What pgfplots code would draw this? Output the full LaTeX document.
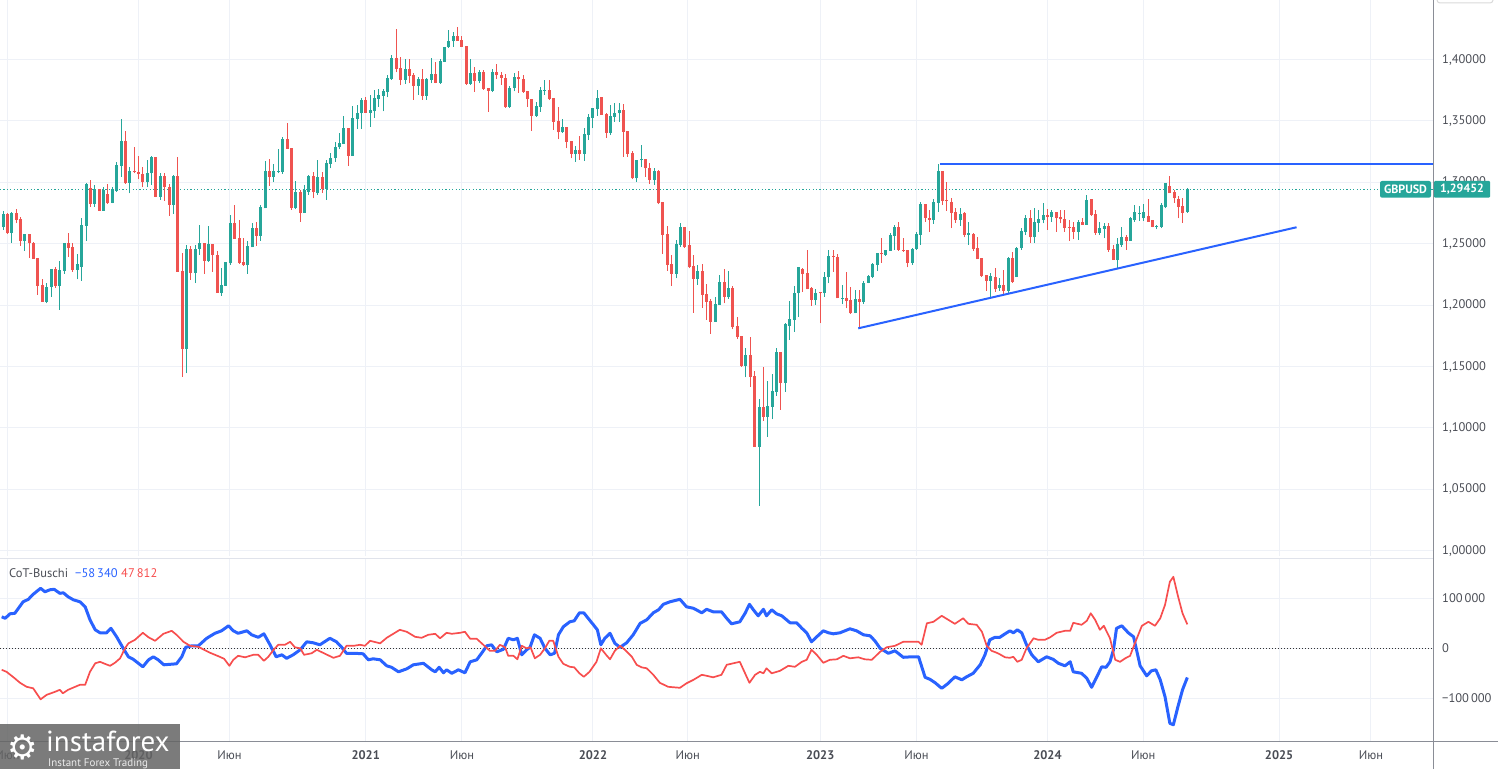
\documentclass[border=0pt]{standalone}
\usepackage{pgfplots}
\pgfplotsset{compat=1.18}
\usepackage{pgfplotstable}
\usepackage{fontspec}
\setmainfont{PT Sans}
\newfontfamily\dejavu{DejaVu Sans}

\definecolor{up}{HTML}{26A69A}
\definecolor{dn}{HTML}{EF5350}
\definecolor{tvblue}{HTML}{2962FF}
\definecolor{cotred}{HTML}{F74E4E}
\definecolor{gridc}{HTML}{EEF1F7}
\definecolor{sepc}{HTML}{E0E3EB}
\definecolor{axisc}{HTML}{8A8D96}
\definecolor{txt}{HTML}{4A4D55}

% weekly GBPUSD candles, w = weeks since first week of 2020
\pgfplotstableread{
w o h l c
-31 1.2634 1.2769 1.2612 1.2742
-30 1.2742 1.2750 1.2580 1.2585
-29 1.2590 1.2761 1.2509 1.2748
-28 1.2748 1.2783 1.2666 1.2693
-27 1.2704 1.2715 1.2482 1.2525
-26 1.2525 1.2579 1.2444 1.2579
-25 1.2579 1.2582 1.2387 1.2503
-24 1.2506 1.2517 1.2379 1.2379
-23 1.2384 1.2384 1.2083 1.2156
-22 1.2167 1.2210 1.2026 1.2026
-21 1.2026 1.2183 1.2015 1.2145
-20 1.2151 1.2292 1.2069 1.2292
-19 1.2297 1.2313 1.2142 1.2156
-18 1.2156 1.2362 1.1961 1.2286
-17 1.2281 1.2509 1.2254 1.2509
-16 1.2509 1.2585 1.2395 1.2465
-15 1.2476 1.2509 1.2270 1.2286
-14 1.2286 1.2417 1.2210 1.2335
-13 1.2313 1.2707 1.2199 1.2653
-12 1.2645 1.2997 1.2525 1.2987
-11 1.2954 1.3019 1.2797 1.2824
-10 1.2824 1.2976 1.2802 1.2948
-9 1.2943 1.2948 1.2769 1.2769
-8 1.2769 1.2959 1.2769 1.2938
-7 1.2905 1.2987 1.2824 1.2829
-6 1.2835 1.2959 1.2829 1.2943
-5 1.2930 1.3168 1.2924 1.3141
-4 1.3133 1.3516 1.3046 1.3337
-3 1.3337 1.3421 1.2987 1.2992
-2 1.2997 1.3122 1.2910 1.3092
-1 1.3092 1.3285 1.3073 1.3084
0 1.3087 1.3214 1.3024 1.3065
1 1.3065 1.3122 1.2959 1.3005
2 1.3005 1.3182 1.2959 1.3079
3 1.3073 1.3214 1.2978 1.3209
4 1.3209 1.3209 1.2878 1.2883
5 1.2883 1.3079 1.2856 1.3052
6 1.3052 1.3079 1.2851 1.2959
7 1.2959 1.2987 1.2726 1.2816
8 1.2816 1.3060 1.2742 1.3052
9 1.3052 1.3209 1.2270 1.2270
10 1.2276 1.2422 1.1418 1.1646
11 1.1646 1.2490 1.1445 1.2455
12 1.2455 1.2482 1.2205 1.2265
13 1.2265 1.2490 1.2178 1.2455
14 1.2455 1.2653 1.2408 1.2503
15 1.2503 1.2503 1.2254 1.2362
16 1.2362 1.2645 1.2354 1.2498
17 1.2498 1.2498 1.2270 1.2406
18 1.2406 1.2444 1.2102 1.2102
19 1.2102 1.2300 1.2077 1.2164
20 1.2156 1.2351 1.2156 1.2351
21 1.2340 1.2731 1.2327 1.2666
22 1.2666 1.2816 1.2541 1.2541
23 1.2547 1.2693 1.2335 1.2346
24 1.2351 1.2547 1.2319 1.2324
25 1.2324 1.2525 1.2254 1.2482
26 1.2471 1.2666 1.2471 1.2628
27 1.2628 1.2680 1.2482 1.2563
28 1.2563 1.2816 1.2525 1.2802
29 1.2788 1.3174 1.2788 1.3092
30 1.3092 1.3187 1.2970 1.3046
31 1.3046 1.3149 1.3005 1.3092
32 1.3084 1.3269 1.3073 1.3092
33 1.3084 1.3366 1.3068 1.3356
34 1.3350 1.3480 1.3274 1.3274
35 1.3280 1.3280 1.2775 1.2788
36 1.2788 1.3011 1.2780 1.2921
37 1.2921 1.2938 1.2680 1.2748
38 1.2748 1.2978 1.2748 1.2938
39 1.2921 1.3057 1.2900 1.3052
40 1.3052 1.3087 1.2870 1.2919
41 1.2916 1.3182 1.2897 1.3046
42 1.3046 1.3087 1.2916 1.2948
43 1.2948 1.3182 1.2856 1.3160
44 1.3149 1.3236 1.3114 1.3201
45 1.3196 1.3331 1.3169 1.3291
46 1.3285 1.3399 1.3269 1.3318
47 1.3312 1.3540 1.3312 1.3445
48 1.3445 1.3445 1.3136 1.3215
49 1.3215 1.3622 1.3215 1.3527
50 1.3519 1.3630 1.3432 1.3567
51 1.3562 1.3690 1.3432 1.3671
52 1.3671 1.3692 1.3567 1.3567
53 1.3567 1.3709 1.3454 1.3589
54 1.3584 1.3752 1.3527 1.3687
55 1.3682 1.3757 1.3616 1.3709
56 1.3703 1.3757 1.3578 1.3744
57 1.3738 1.3874 1.3692 1.3852
58 1.3839 1.4037 1.3833 1.4010
59 1.4010 1.4249 1.3896 1.3923
60 1.3929 1.4023 1.3790 1.3833
61 1.3833 1.4002 1.3801 1.3923
62 1.3923 1.4002 1.3806 1.3866
63 1.3874 1.3888 1.3671 1.3785
64 1.3785 1.3861 1.3711 1.3842
65 1.3842 1.3920 1.3671 1.3706
66 1.3706 1.3852 1.3671 1.3839
67 1.3833 1.4010 1.3806 1.3882
68 1.3882 1.3983 1.3806 1.3812
69 1.3812 1.4002 1.3801 1.3985
70 1.3983 1.4105 1.3983 1.4105
71 1.4099 1.4241 1.4094 1.4154
72 1.4148 1.4224 1.4105 1.4192
73 1.4192 1.4268 1.4154 1.4154
74 1.4159 1.4192 1.4105 1.4105
75 1.4110 1.4110 1.3793 1.3801
76 1.3801 1.4002 1.3793 1.3888
77 1.3888 1.3942 1.3739 1.3825
78 1.3825 1.3915 1.3806 1.3896
79 1.3899 1.3915 1.3752 1.3760
80 1.3768 1.3768 1.3576 1.3747
81 1.3746 1.3920 1.3735 1.3900
82 1.3900 1.3960 1.3840 1.3870
83 1.3870 1.3900 1.3795 1.3850
84 1.3850 1.3880 1.3605 1.3616
85 1.3616 1.3784 1.3605 1.3765
86 1.3765 1.3890 1.3740 1.3860
87 1.3860 1.3910 1.3730 1.3840
88 1.3840 1.3870 1.3730 1.3738
89 1.3746 1.3746 1.3616 1.3676
90 1.3676 1.3676 1.3420 1.3540
91 1.3540 1.3657 1.3534 1.3621
92 1.3616 1.3779 1.3575 1.3752
93 1.3745 1.3833 1.3711 1.3753
94 1.3752 1.3833 1.3670 1.3676
95 1.3689 1.3689 1.3426 1.3494
96 1.3499 1.3616 1.3350 1.3407
97 1.3407 1.3513 1.3404 1.3453
98 1.3453 1.3453 1.3277 1.3331
99 1.3336 1.3336 1.3195 1.3231
100 1.3231 1.3296 1.3168 1.3263
101 1.3263 1.3377 1.3182 1.3231
102 1.3231 1.3439 1.3176 1.3393
103 1.3385 1.3553 1.3344 1.3534
104 1.3526 1.3602 1.3439 1.3602
105 1.3594 1.3752 1.3540 1.3684
106 1.3692 1.3692 1.3548 1.3548
107 1.3553 1.3562 1.3364 1.3404
108 1.3404 1.3629 1.3385 1.3540
109 1.3534 1.3643 1.3494 1.3567
110 1.3562 1.3649 1.3494 1.3589
111 1.3589 1.3638 1.3209 1.3412
112 1.3420 1.3420 1.3209 1.3231
113 1.3241 1.3258 1.3024 1.3032
114 1.3032 1.3182 1.3005 1.3182
115 1.3178 1.3304 1.3122 1.3186
116 1.3187 1.3187 1.3046 1.3114
117 1.3114 1.3155 1.2986 1.3019
118 1.3019 1.3120 1.2978 1.3090
119 1.3090 1.3100 1.2820 1.2829
120 1.2843 1.2843 1.2417 1.2571
121 1.2579 1.2644 1.2281 1.2327
122 1.2335 1.2408 1.2156 1.2254
123 1.2254 1.2530 1.2218 1.2498
124 1.2490 1.2672 1.2476 1.2639
125 1.2639 1.2639 1.2463 1.2471
126 1.2490 1.2604 1.2300 1.2308
127 1.2319 1.2408 1.1939 1.2213
128 1.2213 1.2327 1.2164 1.2281
129 1.2281 1.2335 1.1979 1.2083
130 1.2091 1.2172 1.1879 1.2028
131 1.2037 1.2047 1.1765 1.1866
132 1.1866 1.2064 1.1866 1.2009
133 1.2001 1.2246 1.2001 1.2191
134 1.2191 1.2292 1.2015 1.2069
135 1.2064 1.2278 1.2050 1.2142
136 1.2142 1.2156 1.1803 1.1825
137 1.1830 1.1906 1.1722 1.1743
138 1.1749 1.1749 1.1499 1.1507
139 1.1507 1.1648 1.1412 1.1594
140 1.1594 1.1738 1.1336 1.1418
141 1.1423 1.1464 1.0848 1.0848
142 1.0848 1.1236 1.0367 1.1173
143 1.1173 1.1494 1.1059 1.1092
144 1.1092 1.1383 1.0929 1.1179
145 1.1173 1.1439 1.1070 1.1304
146 1.1296 1.1654 1.1260 1.1621
147 1.1621 1.1621 1.1146 1.1369
148 1.1369 1.1857 1.1296 1.1844
149 1.1830 1.2034 1.1716 1.1885
150 1.1879 1.2156 1.1784 1.2102
151 1.2096 1.2313 1.1906 1.2308
152 1.2291 1.2300 1.2110 1.2253
153 1.2259 1.2449 1.2129 1.2129
154 1.2137 1.2145 1.1993 1.2042
155 1.2042 1.2129 1.2001 1.2096
156 1.2103 1.2105 1.1852 1.2095
157 1.2096 1.2272 1.2069 1.2232
158 1.2226 1.2449 1.2177 1.2400
159 1.2401 1.2449 1.2272 1.2393
160 1.2395 1.2416 1.2055 1.2055
161 1.2052 1.2164 1.2006 1.2060
162 1.2055 1.2267 1.1974 1.2036
163 1.2042 1.2150 1.1928 1.1933
164 1.1933 1.2123 1.1933 1.2047
165 1.2050 1.2123 1.1811 1.2028
166 1.2028 1.2197 1.2009 1.2183
167 1.2183 1.2245 1.2177 1.2237
168 1.2232 1.2340 1.2218 1.2335
169 1.2327 1.2422 1.2281 1.2422
170 1.2422 1.2544 1.2346 1.2414
171 1.2408 1.2449 1.2400 1.2449
172 1.2443 1.2590 1.2443 1.2571
173 1.2563 1.2652 1.2449 1.2633
174 1.2633 1.2680 1.2443 1.2449
175 1.2450 1.2544 1.2435 1.2442
176 1.2449 1.2449 1.2308 1.2346
177 1.2346 1.2462 1.2327 1.2454
178 1.2454 1.2598 1.2449 1.2579
179 1.2571 1.2842 1.2490 1.2823
180 1.2823 1.2823 1.2680 1.2712
181 1.2712 1.2774 1.2598 1.2693
182 1.2693 1.2861 1.2661 1.2842
183 1.2834 1.3149 1.2761 1.3095
184 1.3095 1.3095 1.2815 1.2850
185 1.2856 1.3005 1.2769 1.2848
186 1.2843 1.2870 1.2626 1.2753
187 1.2761 1.2794 1.2672 1.2693
188 1.2693 1.2788 1.2645 1.2742
189 1.2748 1.2761 1.2552 1.2571
190 1.2571 1.2680 1.2490 1.2590
191 1.2579 1.2590 1.2444 1.2455
192 1.2463 1.2558 1.2373 1.2373
193 1.2381 1.2381 1.2232 1.2238
194 1.2246 1.2246 1.2118 1.2200
195 1.2200 1.2265 1.2056 1.2238
196 1.2227 1.2300 1.2110 1.2129
197 1.2142 1.2218 1.2118 1.2164
198 1.2164 1.2286 1.2083 1.2118
199 1.2118 1.2395 1.2096 1.2387
200 1.2381 1.2436 1.2183 1.2191
201 1.2227 1.2471 1.2227 1.2463
202 1.2463 1.2626 1.2449 1.2607
203 1.2598 1.2734 1.2571 1.2707
204 1.2707 1.2775 1.2509 1.2552
205 1.2552 1.2788 1.2509 1.2680
206 1.2672 1.2775 1.2598 1.2699
207 1.2693 1.2835 1.2666 1.2734
208 1.2734 1.2780 1.2612 1.2721
209 1.2721 1.2775 1.2680 1.2761
210 1.2761 1.2761 1.2598 1.2707
211 1.2715 1.2775 1.2666 1.2699
212 1.2699 1.2775 1.2598 1.2626
213 1.2639 1.2693 1.2525 1.2626
214 1.2639 1.2680 1.2536 1.2598
215 1.2598 1.2693 1.2531 1.2680
216 1.2680 1.2707 1.2653 1.2653
217 1.2653 1.2897 1.2653 1.2856
218 1.2862 1.2862 1.2726 1.2734
219 1.2742 1.2775 1.2571 1.2590
220 1.2590 1.2680 1.2571 1.2626
221 1.2620 1.2672 1.2544 1.2645
222 1.2645 1.2666 1.2436 1.2449
223 1.2454 1.2490 1.2367 1.2367
224 1.2367 1.2544 1.2300 1.2498
225 1.2490 1.2639 1.2476 1.2552
226 1.2552 1.2571 1.2449 1.2525
227 1.2525 1.2720 1.2525 1.2707
228 1.2693 1.2815 1.2680 1.2761
229 1.2745 1.2807 1.2688 1.2753
230 1.2707 1.2823 1.2688 1.2761
231 1.2726 1.2861 1.2680 1.2680
232 1.2693 1.2693 1.2633 1.2639
233 1.2637 1.2652 1.2617 1.2645
234 1.2639 1.2829 1.2625 1.2815
235 1.2796 1.2997 1.2788 1.2997
236 1.2970 1.3051 1.2910 1.2910
237 1.2924 1.2937 1.2834 1.2869
238 1.2861 1.2888 1.2707 1.2802
239 1.2807 1.2869 1.2671 1.2753
240 1.2761 1.2950 1.2753 1.2945
}\gbp

% CoT-Buschi lines, values in thousands of contracts
\pgfplotstableread{
w v
-31.3 63
-30.5 60
-29.4 69
-28.3 70
-26.4 93
-25.2 98
-24.1 108
-22.4 120
-21.4 113
-20.3 117
-19.3 118
-18.0 110
-17.2 111
-16.1 103
-14.9 97
-13.4 93
-12.2 83
-11.1 57
-9.9 37
-8.8 31
-7.3 31
-6.3 40
-5.0 23
-3.5 0
-2.3 -17
-1.2 -22
1.0 -37
2.3 -23
3.4 -17
4.5 -23
5.8 -33
8.7 -31
9.9 -17
10.8 2
12.2 5
13.7 5
15.6 20
17.5 30
19.0 35
20.6 45
21.7 35
22.8 30
24.8 35
25.9 27
27.4 22
28.7 29
30.1 7
31.5 -17
32.8 -13
33.9 -20
35.4 -13
37.0 -3
38.5 13
40.0 11
41.5 7
43.8 20
45.3 13
46.5 2
47.6 -10
49.5 -10
51.4 -11
52.6 -23
53.7 -21
55.3 -23
56.8 -35
57.9 -38
59.5 -47
61.4 -41
62.9 -33
65.2 -30
67.1 -43
67.9 -47
68.8 -38
69.8 -49
70.5 -43
71.7 -50
73.2 -43
74.7 -49
75.9 -27
77.4 -23
78.5 -10
79.7 5
80.8 7
82.0 -7
83.5 -2
84.6 20
85.8 17
86.7 20
87.7 -13
88.8 -3
89.6 2
90.6 27
91.9 20
93.0 0
94.2 -13
95.2 -10
96.1 27
97.2 43
98.7 53
99.7 55
100.9 71
101.9 71
102.9 60
104.1 47
105.0 37
105.8 7
106.7 20
107.9 30
109.0 10
110.2 2
111.7 11
113.2 27
114.8 50
116.3 57
117.8 71
119.0 77
120.1 88
121.6 93
123.9 98
125.4 83
127.0 80
128.9 71
130.0 78
131.5 73
133.4 73
134.6 60
135.7 49
137.6 53
138.8 70
139.8 88
140.7 77
141.8 65
143.0 78
143.7 65
144.9 77
146.0 69
147.2 65
149.1 51
150.6 51
151.8 40
152.9 31
154.0 13
155.2 23
156.7 35
157.9 31
159.0 29
160.5 31
162.8 39
164.3 35
165.9 27
167.4 25
168.5 15
169.7 0
171.6 -10
173.1 -5
175.0 -18
176.9 -17
178.5 -17
180.0 -58
181.1 -62
182.3 -69
183.8 -80
185.3 -70
186.8 -57
188.4 -63
189.5 -57
191.0 -50
192.6 -33
193.7 -13
194.8 17
196.0 22
197.1 22
198.3 29
199.4 35
200.2 31
201.1 37
202.1 31
203.2 7
204.4 -13
205.9 -27
207.8 -17
209.3 -22
210.5 -30
212.0 -35
213.2 -27
213.9 -47
215.8 -50
217.0 -60
218.1 -78
219.3 -57
220.4 -37
221.4 -38
222.3 -27
223.1 -3
223.8 40
225.0 45
226.5 31
227.7 23
229.2 -35
230.7 -55
231.8 -45
232.8 -43
233.8 -63
234.9 -97
236.0 -150
236.8 -153
237.9 -115
238.9 -83
240.0 -58.34
}\cotblue

\pgfplotstableread{
w v
-31.3 -43
-30.2 -47
-28.6 -58
-27.1 -69
-25.6 -77
-24.1 -80
-22.4 -102
-21.0 -93
-19.1 -87
-18.0 -83
-17.3 -90
-16.1 -83
-14.5 -77
-13.4 -73
-12.2 -73
-11.1 -47
-9.9 -30
-8.8 -27
-7.7 -31
-6.5 -35
-5.4 -29
-4.2 -20
-3.1 0
-2.3 10
-0.8 17
1.0 31
2.3 22
3.8 15
5.7 29
7.6 35
8.7 27
10.3 13
11.8 5
13.7 3
14.8 -2
16.4 -9
18.6 -17
19.6 -21
20.8 -35
21.7 -23
22.8 -15
24.4 -18
26.3 -13
27.4 -13
28.7 -25
29.7 -17
30.9 -3
32.0 7
33.5 7
34.7 13
35.8 2
37.0 0
37.9 -13
39.6 -10
40.8 -3
42.7 -11
44.6 -19
46.1 -15
47.6 5
49.2 5
50.7 7
51.8 5
53.0 15
55.3 10
56.8 21
58.3 29
59.8 37
61.4 33
63.3 23
64.8 21
66.3 27
67.9 29
69.0 20
70.5 31
71.7 29
73.6 31
74.7 33
75.9 19
77.4 19
78.9 7
80.4 -5
81.6 -5
82.7 7
83.9 2
84.6 -15
85.8 -15
86.7 -22
87.7 5
88.8 0
89.7 2
90.7 -20
91.9 -13
93.0 0
94.0 15
94.9 15
96.1 -17
97.2 -31
98.7 -37
99.7 -38
100.9 -50
101.9 -57
103.2 -47
104.8 -27
105.8 0
107.0 -13
107.9 -22
109.0 -5
110.2 5
111.3 -3
112.9 -17
114.0 -33
115.1 -38
116.3 -40
117.8 -53
119.3 -69
121.2 -77
123.9 -79
125.4 -70
127.0 -63
128.9 -53
130.0 -55
131.5 -58
133.4 -53
134.6 -33
136.1 -30
137.6 -27
138.8 -50
139.8 -69
141.1 -53
142.2 -47
143.0 -50
143.7 -40
144.9 -50
146.8 -45
148.7 -35
150.2 -37
151.8 -27
152.9 -23
154.0 -3
155.2 -13
156.7 -29
158.2 -23
159.8 -22
161.3 -15
162.8 -20
164.7 -18
166.2 -22
167.8 -23
169.7 -7
171.2 2
173.1 5
175.0 13
176.5 13
178.5 13
179.2 7
180.4 50
181.9 53
183.8 65
185.3 57
186.8 49
188.7 60
189.9 49
191.8 47
193.0 33
194.1 5
195.2 -5
196.4 -9
197.1 -12
198.3 -18
199.4 -19
200.2 -17
201.1 -27
202.1 -23
203.2 0
204.8 20
205.9 17
207.4 17
208.6 22
210.1 31
212.0 35
213.2 35
213.9 51
215.8 47
217.0 55
217.9 70
218.9 57
220.0 37
220.9 45
222.3 20
223.5 -23
224.6 -27
225.8 -20
226.9 -15
228.0 10
229.6 45
231.1 53
232.6 45
233.8 60
234.9 87
236.0 133
236.8 143
237.9 103
238.9 70
240.0 47.812
}\cotred

\pgfplotsset{
  tvpane/.style={
    scale only axis, width=1433pt,
    xmin=-31.69, xmax=296.22,
    axis line style={draw=none},
    major tick length=0pt,
    xtick={-30,0,20.8,52,74,104,125.7,156,178,208,229.9,261,282},
    xmajorgrids, ymajorgrids,
    grid style={color=gridc, line width=1pt},
    yticklabel pos=right,
    yticklabel style={anchor=west, inner sep=0pt, xshift=9pt,
      font=\fontsize{12.5}{14}\selectfont, text=txt},
  },
  wick/.style={draw=none, mark=none, forget plot,
    error bars/y dir=plus, error bars/y explicit, error bars/error mark=none,
    error bars/error bar style={draw=#1, line width=1pt}},
  body/.style={draw=none, mark=none, forget plot,
    error bars/y dir=plus, error bars/y explicit, error bars/error mark=none,
    error bars/error bar style={draw=#1, line width=3pt}},
}

\begin{document}
\begin{tikzpicture}
\useasboundingbox (0,0) rectangle (1498pt,769pt);

% price pane
\begin{axis}[tvpane,
  at={(0pt,213pt)}, anchor=south west, height=556pt,
  ymin=0.99570, ymax=1.44845,
  xticklabel=\empty,
  ytick={1.00,1.05,1.10,1.15,1.20,1.25,1.30,1.35,1.40},
  yticklabels={1{,}00000,1{,}05000,1{,}10000,1{,}15000,1{,}20000,1{,}25000,1{,}30000,1{,}35000,1{,}40000},
]
\addplot[up, dash pattern=on 1.2pt off 2.2pt, line width=1pt, forget plot]
  coordinates {(-31.69,1.29452) (296.22,1.29452)};
\addplot[restrict expr to domain={\thisrow{c}-\thisrow{o}}{0:1}, wick=up]
  table[x=w, y=l, y error plus expr=\thisrow{h}-\thisrow{l}] {\gbp};
\addplot[restrict expr to domain={\thisrow{c}-\thisrow{o}}{0:1}, body=up]
  table[x=w, y=o, y error plus expr=\thisrow{c}-\thisrow{o}] {\gbp};
\addplot[restrict expr to domain={\thisrow{c}-\thisrow{o}}{-1:-0.00001}, wick=dn]
  table[x=w, y=l, y error plus expr=\thisrow{h}-\thisrow{l}] {\gbp};
\addplot[restrict expr to domain={\thisrow{c}-\thisrow{o}}{-1:-0.00001}, body=dn]
  table[x=w, y=c, y error plus expr=\thisrow{o}-\thisrow{c}] {\gbp};
% resistance and support lines
\addplot[tvblue, line width=2pt] coordinates {(183.5,1.3149) (296.22,1.3149)};
\addplot[tvblue, line width=2pt] coordinates {(164.7,1.1811) (265.0,1.2634)};
\end{axis}

% CoT pane
\begin{axis}[tvpane,
  at={(0pt,27.3pt)}, anchor=south west, height=183.7pt,
  ymin=-186.8, ymax=180.6,
  ytick={-100,0,100},
  yticklabels={−100\,000,0,100\,000},
  xticklabels={Июн,\textbf{2020},Июн,\textbf{2021},Июн,\textbf{2022},Июн,\textbf{2023},Июн,\textbf{2024},Июн,\textbf{2025},Июн},
  xticklabel style={anchor=base, inner sep=0pt, yshift=-18pt,
    font=\fontsize{12.5}{14}\selectfont, text=txt},
]
\addplot[black!80, dash pattern=on 1pt off 2pt, line width=0.9pt]
  coordinates {(-31.69,0) (296.22,0)};
\addplot[tvblue, line width=3pt, line join=round] table[x=w, y=v] {\cotblue};
\addplot[cotred, line width=1.7pt, line join=round] table[x=w, y=v] {\cotred};
\end{axis}

% frame lines
\draw[axisc, line width=1pt] (1433pt,0pt) -- (1433pt,769pt);
\draw[axisc, line width=1pt] (0pt,27.3pt) -- (1498pt,27.3pt);
\draw[sepc, line width=1pt] (0pt,211pt) -- (1433pt,211pt);
\draw[gray!30, line width=1pt, rounded corners=3pt] (1437pt,780pt) rectangle (1493pt,766pt);

% last price labels
\fill[up, rounded corners=2pt] (1380pt,571.3pt) rectangle (1431pt,588pt);
\node[white, font=\fontsize{12}{14}\selectfont\bfseries] at (1405.5pt,579.6pt) {GBPUSD};
\fill[up, rounded corners=1pt] (1434pt,571.3pt) rectangle (1490pt,588pt);
\node[white, font=\fontsize{12}{14}\selectfont\bfseries] at (1462pt,579.6pt) {1,29452};

% indicator legend
\node[anchor=base west, inner sep=0pt, font=\fontsize{12.5}{14}\selectfont, text=txt] at (9pt,191.5pt) {CoT-Buschi};
\node[anchor=base west, inner sep=0pt, font=\fontsize{12.5}{14}\selectfont, text=tvblue] at (75pt,191.5pt) {−58\,340};
\node[anchor=base west, inner sep=0pt, font=\fontsize{12.5}{14}\selectfont, text=cotred] at (121pt,191.5pt) {47\,812};

% watermark
\fill[fill={rgb,255:red,100;green,100;blue,100}, opacity=0.85] (0pt,0pt) rectangle (180pt,45pt);
\node[white, font=\dejavu\fontsize{34}{34}\selectfont] at (23pt,22pt) {⚙};
\node[anchor=base west, inner sep=0pt, white, font=\fontsize{29}{30}\selectfont] at (46pt,18pt) {instaforex};
\node[anchor=base west, inner sep=0pt, white!85!gray, font=\fontsize{11}{12}\selectfont] at (48pt,3pt) {Instant Forex Trading};
\end{tikzpicture}
\end{document}
